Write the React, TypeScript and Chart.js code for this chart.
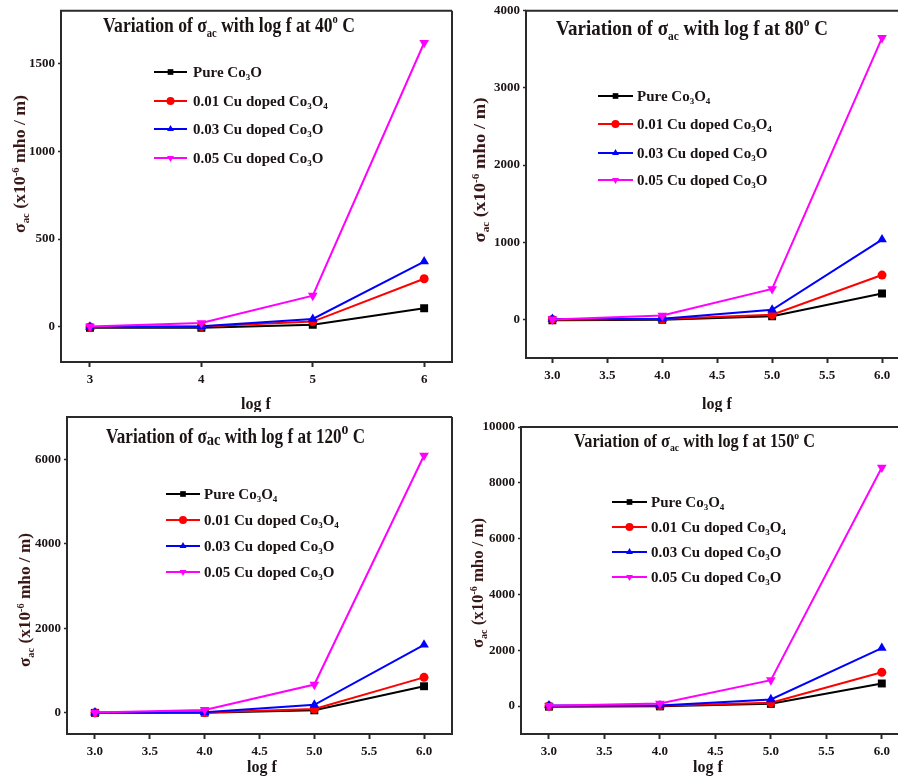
import React, { useEffect, useRef } from 'react';
import { Chart, registerables } from 'chart.js';

Chart.register(...registerables);

// ---- data: log f on the x axis, sigma_ac (x10^-6 mho/m) on the y axis ----
const LOG_F = [3, 4, 5, 6];

const PURE_40 = [-5, -5, 12, 106];
const CU01_40 = [0, 2, 30, 274];
const CU03_40 = [0, 3, 45, 372];
const CU05_40 = [2, 22, 178, 1618];

const PURE_80 = [-10, -5, 40, 335];
const CU01_80 = [0, 5, 60, 575];
const CU03_80 = [5, 10, 125, 1035];
const CU05_80 = [0, 50, 395, 3650];

const PURE_120 = [0, 5, 60, 630];
const CU01_120 = [0, 10, 90, 840];
const CU03_120 = [5, 15, 190, 1610];
const CU05_120 = [10, 70, 670, 6090];

const PURE_150 = [-20, -10, 80, 810];
const CU01_150 = [0, 10, 120, 1210];
const CU03_150 = [20, 20, 240, 2080];
const CU05_150 = [10, 95, 930, 8550];

const X_TICKS_WHOLE = [3, 4, 5, 6];
const X_TICKS_HALF = [3, 3.5, 4, 4.5, 5, 5.5, 6];

const Y_TICKS_40 = [0, 500, 1000, 1500];
const Y_TICKS_80 = [0, 1000, 2000, 3000, 4000];
const Y_TICKS_120 = [0, 2000, 4000, 6000];
const Y_TICKS_150 = [0, 2000, 4000, 6000, 8000, 10000];

const SERIES_NAMES = ['Pure Co₃O₄', '0.01 Cu doped Co₃O₄', '0.03 Cu doped Co₃O', '0.05 Cu doped Co₃O'];

// ---- styling ----
const FONT = '"Liberation Serif", "Times New Roman", serif';
const TEXT_COLOR = '#1c1414';
const AXIS_TITLE_COLOR = '#3a1818';
const FRAME_COLOR = '#2a2a2a';

const SERIES_STYLE = [
  { color: '#000000', point: 'rect', radius: 5.6, rotation: 0, legendMarker: 'rect' },
  { color: '#ff0000', point: 'circle', radius: 4.5, rotation: 0, legendMarker: 'circle' },
  { color: '#0000ff', point: 'triangle', radius: 5.6, rotation: 0, legendMarker: 'tri' },
  { color: '#ff00ff', point: 'triangle', radius: 5.6, rotation: 180, legendMarker: 'triDown' },
];

type Seg = { t: string; k?: 'sub' | 'sup' | 'low' | 'bigsup' };

const formula = (prefix: string, withFour: boolean): Seg[] => {
  const segs: Seg[] = [{ t: prefix + ' Co' }, { t: '3', k: 'sub' }, { t: 'O' }];
  if (withFour) segs.push({ t: '4', k: 'sub' });
  return segs;
};

const legendLabels = (pureHasFour: boolean): Seg[][] => [
  formula('Pure', pureHasFour),
  formula('0.01 Cu doped', true),
  formula('0.03 Cu doped', false),
  formula('0.05 Cu doped', false),
];

const titleSegs = (temp: string, inlineAc: boolean): Seg[] => [
  { t: 'Variation of σ' },
  { t: 'ac', k: inlineAc ? 'low' : 'sub' },
  { t: ' with log f at ' + temp },
  { t: 'o', k: inlineAc ? 'bigsup' : 'sup' },
  { t: ' C' },
];

const Y_TITLE: Seg[] = [
  { t: 'σ' },
  { t: 'ac', k: 'sub' },
  { t: ' (x10' },
  { t: '-6', k: 'sup' },
  { t: ' mho / m)' },
];

interface TextBox { x: number; y: number; size: number; width?: number }

interface Panel {
  key: string;
  left: number; top: number; width: number; height: number;
  frame: [number, number, number, number];
  xMin: number; xMax: number; yMin: number; yMax: number;
  xTicks: number[]; yTicks: number[]; xDecimals: number;
  series: number[][];
  title: Seg[]; titleBox: TextBox;
  legend: Seg[][]; legendLine: [number, number]; legendTextX: number; legendRows: number[]; legendSize: number;
  yTitle: TextBox; xTitle: TextBox;
  frameRight: boolean;
}

const X_AXIS_H = 34;

const PANELS: Panel[] = [
  {
    key: 'p40', left: 0, top: 0, width: 460, height: 412,
    frame: [61, 10, 452, 362],
    xMin: 2.74, xMax: 6.25, yMin: -200, yMax: 1800,
    xTicks: X_TICKS_WHOLE, yTicks: Y_TICKS_40, xDecimals: 0,
    series: [PURE_40, CU01_40, CU03_40, CU05_40],
    title: titleSegs('40', false), titleBox: { x: 103, y: 32, size: 21, width: 252 },
    legend: legendLabels(false), legendLine: [154, 187], legendTextX: 193, legendRows: [72, 101, 129, 158], legendSize: 15,
    yTitle: { x: 20, y: 164, size: 16, width: 138 }, xTitle: { x: 256, y: 404, size: 16 },
    frameRight: true,
  },
  {
    key: 'p80', left: 450, top: 0, width: 460, height: 412,
    frame: [76, 8, 454, 358],
    xMin: 2.76, xMax: 6.2, yMin: -500, yMax: 4000,
    xTicks: X_TICKS_HALF, yTicks: Y_TICKS_80, xDecimals: 1,
    series: [PURE_80, CU01_80, CU03_80, CU05_80],
    title: titleSegs('80', false), titleBox: { x: 106, y: 35, size: 22, width: 272 },
    legend: legendLabels(true), legendLine: [148, 183], legendTextX: 187, legendRows: [96, 124, 153, 180], legendSize: 15,
    yTitle: { x: 30, y: 170, size: 16, width: 145 }, xTitle: { x: 267, y: 404, size: 16 },
    frameRight: true,
  },
  {
    key: 'p120', left: 0, top: 405, width: 460, height: 371,
    frame: [67, 12, 452, 329],
    xMin: 2.745, xMax: 6.255, yMin: -500, yMax: 7000,
    xTicks: X_TICKS_HALF, yTicks: Y_TICKS_120, xDecimals: 1,
    series: [PURE_120, CU01_120, CU03_120, CU05_120],
    title: titleSegs('120', true), titleBox: { x: 106, y: 38, size: 20, width: 259 },
    legend: legendLabels(true), legendLine: [166, 200], legendTextX: 204, legendRows: [89, 115, 141, 167], legendSize: 15,
    yTitle: { x: 25, y: 195, size: 16, width: 134 }, xTitle: { x: 262, y: 362, size: 16 },
    frameRight: true,
  },
  {
    key: 'p150', left: 450, top: 405, width: 460, height: 371,
    frame: [71, 22, 454, 329],
    xMin: 2.748, xMax: 6.2, yMin: -1000, yMax: 10000,
    xTicks: X_TICKS_HALF, yTicks: Y_TICKS_150, xDecimals: 1,
    series: [PURE_150, CU01_150, CU03_150, CU05_150],
    title: titleSegs('150', false), titleBox: { x: 124, y: 42, size: 18, width: 241 },
    legend: legendLabels(true), legendLine: [162, 197], legendTextX: 201, legendRows: [97, 122, 147, 172], legendSize: 15,
    yTitle: { x: 28, y: 178, size: 16, width: 130 }, xTitle: { x: 258, y: 362, size: 16 },
    frameRight: true,
  },
];

// ---- rich text helpers (sub/superscripts drawn on the canvas) ----
function segFont(seg: Seg, size: number): [number, number] {
  switch (seg.k) {
    case 'sub': return [size * 0.6, size * 0.22];
    case 'sup': return [size * 0.6, -size * 0.42];
    case 'low': return [size * 0.85, size * 0.1];
    case 'bigsup': return [size * 0.8, -size * 0.45];
    default: return [size, 0];
  }
}

function richWidth(ctx: CanvasRenderingContext2D, segs: Seg[], size: number): number {
  let w = 0;
  for (const s of segs) {
    const [fs] = segFont(s, size);
    ctx.font = `bold ${fs}px ${FONT}`;
    w += ctx.measureText(s.t).width;
  }
  return w;
}

function drawRich(
  ctx: CanvasRenderingContext2D, segs: Seg[], x: number, y: number, size: number,
  color: string, align: 'left' | 'center', fitWidth?: number,
) {
  const natural = richWidth(ctx, segs, size);
  const sx = fitWidth ? fitWidth / natural : 1;
  ctx.save();
  ctx.translate(x, y);
  ctx.scale(sx, 1);
  ctx.fillStyle = color;
  ctx.textAlign = 'left';
  ctx.textBaseline = 'alphabetic';
  let cx = align === 'center' ? -natural / 2 : 0;
  for (const s of segs) {
    const [fs, dy] = segFont(s, size);
    ctx.font = `bold ${fs}px ${FONT}`;
    ctx.fillText(s.t, cx, dy);
    cx += ctx.measureText(s.t).width;
  }
  ctx.restore();
}

function drawMarker(ctx: CanvasRenderingContext2D, kind: string, x: number, y: number, r: number, color: string) {
  ctx.save();
  ctx.fillStyle = color;
  ctx.beginPath();
  if (kind === 'rect') {
    const s = r * Math.SQRT1_2;
    ctx.rect(x - s, y - s, 2 * s, 2 * s);
  } else if (kind === 'circle') {
    ctx.arc(x, y, r, 0, Math.PI * 2);
  } else if (kind === 'tri') {
    ctx.moveTo(x, y - r);
    ctx.lineTo(x + r * 0.866, y + r * 0.5);
    ctx.lineTo(x - r * 0.866, y + r * 0.5);
    ctx.closePath();
  } else {
    ctx.moveTo(x, y + r);
    ctx.lineTo(x + r * 0.866, y - r * 0.5);
    ctx.lineTo(x - r * 0.866, y - r * 0.5);
    ctx.closePath();
  }
  ctx.fill();
  ctx.restore();
}

function makeDecorPlugin(p: Panel) {
  return {
    id: 'panelDecor_' + p.key,
    beforeDatasetsDraw(chart: Chart) {
      const { ctx, chartArea } = chart;
      ctx.save();
      ctx.strokeStyle = FRAME_COLOR;
      ctx.lineWidth = 2;
      ctx.beginPath();
      ctx.moveTo(chartArea.right, chartArea.top);
      ctx.lineTo(chartArea.left, chartArea.top);
      ctx.lineTo(chartArea.left, chartArea.bottom);
      ctx.lineTo(chartArea.right, chartArea.bottom);
      if (p.frameRight) ctx.lineTo(chartArea.right, chartArea.top);
      ctx.stroke();
      ctx.restore();
    },
    afterDraw(chart: Chart) {
      const ctx = chart.ctx;
      // plot title inside the frame
      const tb = p.titleBox;
      drawRich(ctx, p.title, tb.x, tb.y, tb.size, TEXT_COLOR, 'left', tb.width);

      // legend
      p.legend.forEach((label, i) => {
        const st = SERIES_STYLE[i];
        const y = p.legendRows[i];
        ctx.save();
        ctx.strokeStyle = st.color;
        ctx.lineWidth = 2;
        ctx.beginPath();
        ctx.moveTo(p.legendLine[0], y);
        ctx.lineTo(p.legendLine[1], y);
        ctx.stroke();
        ctx.restore();
        drawMarker(ctx, st.legendMarker, (p.legendLine[0] + p.legendLine[1]) / 2, y, 4, st.color);
        drawRich(ctx, label, p.legendTextX, y + p.legendSize * 0.33, p.legendSize, TEXT_COLOR, 'left');
      });

      // y axis title (rotated)
      const yt = p.yTitle;
      ctx.save();
      ctx.translate(yt.x, yt.y);
      ctx.rotate(-Math.PI / 2);
      drawRich(ctx, Y_TITLE, 0, yt.size * 0.33, yt.size, AXIS_TITLE_COLOR, 'center', yt.width);
      ctx.restore();

      // x axis title
      const xt = p.xTitle;
      drawRich(ctx, [{ t: 'log f' }], xt.x, xt.y + xt.size * 0.33, xt.size, TEXT_COLOR, 'center');
    },
  };
}

function PanelChart({ p }: { p: Panel }) {
  const ref = useRef<HTMLCanvasElement | null>(null);

  useEffect(() => {
    const canvas = ref.current;
    if (!canvas) return;
    const [L, T, R, B] = p.frame;

    const datasets = p.series.map((vals, i) => {
      const st = SERIES_STYLE[i];
      return {
        label: SERIES_NAMES[i],
        data: LOG_F.map((x, j) => ({ x, y: vals[j] })),
        borderColor: st.color,
        backgroundColor: st.color,
        borderWidth: 2,
        pointStyle: st.point,
        pointRadius: st.radius,
        pointRotation: st.rotation,
        pointBorderWidth: 0,
        pointBackgroundColor: st.color,
        order: 3 - i,
        tension: 0,
      };
    });

    const tickFont = { family: FONT, size: 13, weight: 'bold' as const };

    const chart = new Chart(canvas, {
      type: 'line',
      data: { datasets },
      plugins: [makeDecorPlugin(p)],
      options: {
        responsive: false,
        animation: false,
        devicePixelRatio: 1,
        layout: {
          padding: { left: 0, top: T, right: p.width - R, bottom: p.height - B - X_AXIS_H },
        },
        plugins: {
          legend: { display: false },
          tooltip: { enabled: false },
          title: { display: false },
        },
        scales: {
          x: {
            type: 'linear',
            min: p.xMin,
            max: p.xMax,
            afterBuildTicks: (s: any) => { s.ticks = p.xTicks.map((v) => ({ value: v })); },
            afterFit: (s: any) => { s.height = X_AXIS_H; },
            border: { display: false },
            grid: {
              drawOnChartArea: false,
              drawTicks: true,
              tickLength: 5,
              tickWidth: 2,
              tickColor: FRAME_COLOR,
            },
            ticks: {
              autoSkip: false,
              maxRotation: 0,
              padding: 5,
              color: TEXT_COLOR,
              font: tickFont,
              callback: (v: any) => Number(v).toFixed(p.xDecimals),
            },
          },
          y: {
            type: 'linear',
            min: p.yMin,
            max: p.yMax,
            afterBuildTicks: (s: any) => { s.ticks = p.yTicks.map((v) => ({ value: v })); },
            afterFit: (s: any) => { s.width = L; },
            border: { display: false },
            grid: {
              drawOnChartArea: false,
              drawTicks: true,
              tickLength: 3,
              tickWidth: 1.5,
              tickColor: FRAME_COLOR,
            },
            ticks: {
              autoSkip: false,
              padding: 3,
              color: TEXT_COLOR,
              font: tickFont,
              callback: (v: any) => String(v),
            },
          },
        },
      } as any,
    });

    return () => chart.destroy();
  }, [p]);

  return (
    <canvas
      ref={ref}
      width={p.width}
      height={p.height}
      style={{ position: 'absolute', left: p.left, top: p.top, width: p.width, height: p.height, display: 'block' }}
    />
  );
}

export default function App() {
  return (
    <div
      style={{
        position: 'fixed', left: 0, top: 0, width: 898, height: 776,
        overflow: 'hidden', background: '#ffffff',
      }}
    >
      {PANELS.map((p) => <PanelChart key={p.key} p={p} />)}
    </div>
  );
}
